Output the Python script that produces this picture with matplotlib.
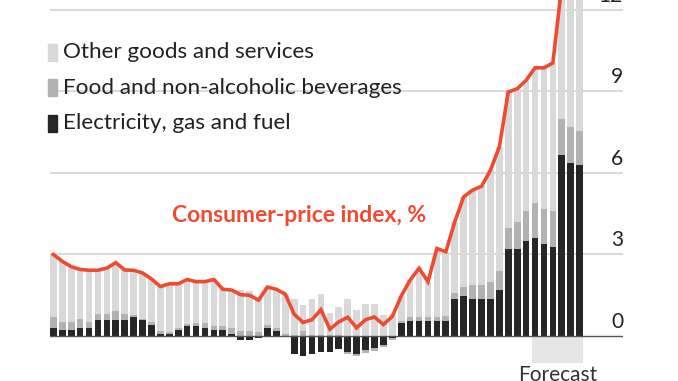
import numpy as np
import matplotlib.pyplot as plt
from matplotlib.patches import Rectangle

# monthly, Jan 2018 - Dec 2022 (last six bars = forecast)
cpi = [3.0, 2.75, 2.55, 2.45, 2.42, 2.42, 2.5, 2.7, 2.43, 2.42, 2.32, 2.1,
       1.82, 1.92, 1.92, 2.08, 2.0, 2.0, 2.08, 1.72, 1.69, 1.52, 1.5, 1.32,
       1.8, 1.72, 1.54, 0.8, 0.5, 0.6, 0.97, 0.25, 0.52, 0.69, 0.3, 0.6,
       0.7, 0.42, 0.72, 1.47, 2.06, 2.49, 2.0, 3.22, 3.1, 4.2, 5.12, 5.37,
       5.51, 6.1, 6.96, 8.98, 9.1, 9.41, 9.87, 9.87, 10.05, 12.9, 13.1, 13.3]
energy = [0.31, 0.22, 0.22, 0.31, 0.31, 0.59, 0.59, 0.59, 0.59, 0.71, 0.59, 0.39,
          0.09, 0.09, 0.21, 0.38, 0.38, 0.29, 0.21, 0.21, 0.08, -0.16, -0.16, -0.09,
          0.28, 0.19, 0.0, -0.66, -0.72, -0.67, -0.60, -0.58, -0.49, -0.58, -0.65, -0.52,
          -0.46, -0.33, -0.06, 0.47, 0.57, 0.57, 0.57, 0.57, 0.57, 1.38, 1.48, 1.38,
          1.38, 1.38, 1.68, 3.19, 3.19, 3.48, 3.59, 3.38, 3.28, 6.67, 6.38, 6.28]
food = [0.40, 0.29, 0.29, 0.30, 0.20, 0.21, 0.21, 0.32, 0.21, 0.05, 0.03, 0.12,
        0.08, 0.05, 0.07, 0.08, 0.10, 0.20, 0.15, 0.15, 0.22, 0.20, 0.20, 0.15,
        0.12, 0.09, 0.06, 0.05, 0.20, 0.05, 0.05, 0.04, 0.03, -0.08, -0.10, -0.12,
        -0.10, -0.08, -0.08, 0.07, 0.12, 0.13, 0.13, 0.14, 0.15, 0.20, 0.32, 0.50,
        0.50, 0.59, 0.71, 0.79, 0.99, 1.12, 1.30, 1.31, 1.32, 1.31, 1.32, 1.28]
other = [2.29, 2.24, 2.04, 1.84, 1.91, 1.62, 1.70, 1.79, 1.63, 1.66, 1.70, 1.59,
         1.65, 1.78, 1.64, 1.62, 1.52, 1.51, 1.72, 1.36, 1.39, 1.48, 1.46, 1.26,
         1.40, 1.44, 1.48, 1.31, 0.94, 1.31, 1.49, 0.79, 1.02, 1.36, 0.96, 1.16,
         1.16, 0.77, 0.80, 0.93, 1.37, 1.79, 1.30, 2.51, 2.38, 2.62, 3.32, 3.49,
         3.63, 4.13, 4.57, 5.00, 4.92, 4.81, 4.98, 5.18, 5.45, 4.92, 5.40, 5.74]
n_forecast = 6
yticks = [0, 3, 6, 9, 12]
labels = ["Other goods and services", "Food and non-alcoholic beverages",
          "Electricity, gas and fuel"]

c_other, c_food, c_energy = "#d9d9d9", "#b2b2b2", "#262626"
red = "#ee4b32"
txt = "#222222"
plt.rcParams['font.family'] = ['Lato', 'DejaVu Sans']

energy = np.array(energy)
food = np.array(food)
other = np.array(other)
x = np.arange(len(cpi))
w = 0.75

fig = plt.figure(figsize=(6.78, 3.81), dpi=100)
ax = fig.add_axes([50 / 678, 0, 573 / 678, 1])
ax.set_xlim(-w / 2, -w / 2 + 573 / 8.92)
ax.set_ylim(-45 / 27.17, 336 / 27.17)
ax.axis("off")
y0, y1 = ax.get_ylim()

for v in yticks[1:]:
    ax.axhline(v, color="#d3d3d3", lw=1.2, zorder=0)
for v in yticks:
    ax.text(ax.get_xlim()[1], v + 0.3, str(v), ha="right", va="baseline",
            fontsize=15, color=txt)

# stacking: positives go up from 0, negatives go down from 0
pos = np.zeros(len(x))
neg = np.zeros(len(x))
for vals, col in [(energy, c_energy), (food, c_food), (other, c_other)]:
    p = np.clip(vals, 0, None)
    q = np.clip(vals, None, 0)
    ax.bar(x, p, w, bottom=pos, color=col, zorder=2, linewidth=0)
    ax.bar(x, q, w, bottom=neg, color=col, zorder=2, linewidth=0)
    pos += p
    neg += q

ax.axhline(0, color="#555555", lw=1.0, zorder=3)

# forecast band
x0 = len(x) - n_forecast - w / 2
ax.axvspan(x0, len(x) - 1 + w / 2, ymin=(-0.98 - y0) / (y1 - y0),
           ymax=-y0 / (y1 - y0), color="#e6e6e6", lw=0, zorder=1)
ax.text(len(x) - n_forecast / 2 - 0.5, -1.42, "Forecast", ha="center", va="center",
        fontsize=15, color="#333333")

ax.plot(x, cpi, color=red, lw=2.6, zorder=4, solid_joinstyle="miter")

fig.text(172 / 678, 1 - 216 / 381, "Consumer-price index, %", color=red,
         fontsize=16.5, fontweight="bold", va="center")

# legend
for i, (lab, col) in enumerate(zip(labels, [c_other, c_food, c_energy])):
    yc = [52, 88, 123][i]
    fig.patches.append(Rectangle((48 / 678, 1 - (yc + 8.5) / 381), 9 / 678, 17 / 381,
                                 color=col, transform=fig.transFigure, figure=fig))
    fig.text(63 / 678, 1 - yc / 381, lab, fontsize=16.2, color=txt, va="center")

fig.savefig("out.png", dpi=100)
